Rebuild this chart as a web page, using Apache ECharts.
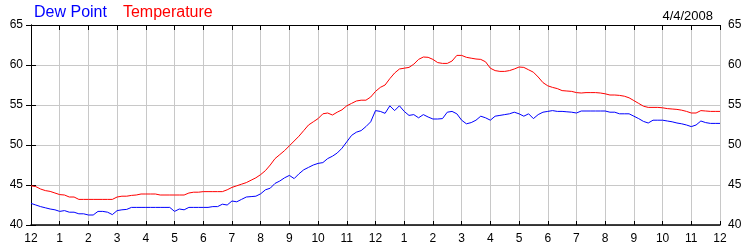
<!DOCTYPE html>
<html>
<head>
<meta charset="utf-8">
<script src="https://cdn.jsdelivr.net/npm/echarts@6/dist/echarts.min.js"></script>
<style>
html,body{margin:0;padding:0;background:#fff;}
#chart{width:750px;height:250px;}
</style>
</head>
<body>
<div id="chart"></div>
<script>
// 10-minute readings from 12 AM to 12 AM (next day), 145 values each
const dateLabel = '4/4/2008';
const stepMinutes = 10;
const hourLabels = ['12','1','2','3','4','5','6','7','8','9','10','11','12','1','2','3','4','5','6','7','8','9','10','11','12'];
const yTicks = [40, 45, 50, 55, 60, 65];

const temperature = [
  44.9,44.8,44.5,44.3,44.2,44.0,43.8,43.75,43.5,43.5,
  43.2,43.2,43.2,43.2,43.2,43.2,43.2,43.2,43.5,43.6,
  43.6,43.7,43.75,43.875,43.875,43.875,43.875,43.75,43.75,43.75,
  43.75,43.75,43.75,44.0,44.1,44.1,44.17,44.17,44.17,44.17,
  44.17,44.4,44.7,44.9,45.1,45.3,45.6,45.9,46.3,46.8,
  47.5,48.3,48.8,49.3,49.9,50.5,51.1,51.8,52.5,52.9,
  53.3,53.9,54.0,53.75,54.1,54.4,54.9,55.2,55.5,55.6,
  55.6,56.0,56.7,57.2,57.5,58.3,59.0,59.5,59.6,59.7,
  60.1,60.7,61.0,60.96,60.7,60.3,60.2,60.2,60.5,61.2,
  61.2,60.96,60.85,60.75,60.7,60.4,59.6,59.3,59.2,59.2,
  59.3,59.5,59.75,59.7,59.4,59.1,58.5,57.8,57.4,57.2,
  57.05,56.8,56.75,56.7,56.55,56.5,56.55,56.55,56.55,56.5,
  56.4,56.25,56.25,56.2,56.1,55.9,55.55,55.2,54.85,54.7,
  54.7,54.7,54.65,54.55,54.5,54.45,54.35,54.2,54.0,54.0,
  54.3,54.25,54.2,54.2,54.2
];

const dewPoint = [
  42.7,42.5,42.3,42.15,42.0,41.9,41.7,41.8,41.6,41.6,
  41.4,41.4,41.25,41.25,41.7,41.7,41.6,41.3,41.8,41.9,
  41.95,42.2,42.2,42.2,42.2,42.2,42.2,42.2,42.2,42.2,
  41.7,42.0,41.9,42.2,42.2,42.2,42.2,42.2,42.3,42.3,
  42.6,42.5,43.0,42.9,43.2,43.5,43.55,43.6,43.9,44.4,
  44.6,45.2,45.5,45.9,46.2,45.8,46.4,46.9,47.2,47.5,
  47.7,47.8,48.3,48.6,49.0,49.6,50.4,51.2,51.6,51.8,
  52.3,52.9,54.3,54.2,53.96,54.9,54.3,54.9,54.2,53.7,
  53.8,53.4,53.8,53.5,53.25,53.25,53.3,54.1,54.2,53.9,
  53.1,52.65,52.8,53.1,53.6,53.4,53.1,53.6,53.7,53.8,
  53.9,54.1,53.9,53.6,53.9,53.3,53.8,54.1,54.2,54.3,
  54.2,54.2,54.15,54.1,54.0,54.25,54.25,54.25,54.25,54.25,
  54.25,54.1,54.1,53.9,53.9,53.9,53.6,53.3,52.95,52.75,
  53.1,53.1,53.1,53.0,52.9,52.75,52.65,52.5,52.3,52.5,
  53.0,52.8,52.7,52.7,52.7
];

const toPairs = arr => arr.map((v, i) => [i * stepMinutes / 60, v]);

const chart = echarts.init(document.getElementById('chart'), null, {renderer: 'canvas'});
const FONT = 'Liberation Sans, Arial, sans-serif';
const gridColor = '#c8c8c8';

chart.setOption({
  animation: false,
  backgroundColor: '#ffffff',
  title: {
    text: dateLabel,
    right: 32,
    top: 5,
    textStyle: {fontFamily: FONT, fontSize: 13, fontWeight: 'normal', color: '#000'}
  },
  legend: {
    left: 24,
    top: 0,
    itemWidth: 0,
    itemHeight: 0,
    itemGap: 11,
    icon: 'rect',
    selectedMode: false,
    data: [
      {name: 'Dew Point', textStyle: {color: '#0000ff'}},
      {name: 'Temperature', textStyle: {color: '#ff0000'}}
    ],
    textStyle: {fontFamily: FONT, fontSize: 16}
  },
  grid: {left: 31, right: 30, top: 25, bottom: 25, containLabel: false},
  xAxis: [
    {
      type: 'value', min: 0, max: 24, interval: 1, position: 'bottom',
      axisLine: {show: true, onZero: false, lineStyle: {color: '#000', width: 1.5}},
      axisTick: {show: true, inside: true, length: 4, lineStyle: {color: '#000'}},
      axisLabel: {
        margin: 8, color: '#000', fontFamily: FONT, fontSize: 12,
        formatter: v => hourLabels[Math.round(v)]
      },
      splitLine: {show: true, lineStyle: {color: gridColor, width: 1}}
    },
    {
      type: 'value', min: 0, max: 24, interval: 1, position: 'top',
      axisLine: {show: true, onZero: false, lineStyle: {color: '#000', width: 1}},
      axisTick: {show: true, inside: true, length: 5, lineStyle: {color: '#000'}},
      axisLabel: {show: false},
      splitLine: {show: false}
    }
  ],
  yAxis: [
    {
      type: 'value', min: yTicks[0], max: yTicks[yTicks.length - 1], interval: 5, position: 'left',
      axisLine: {show: true, lineStyle: {color: '#000', width: 1}},
      axisTick: {show: true, inside: true, length: 5, lineStyle: {color: '#000'}},
      axisLabel: {margin: 8, color: '#000', fontFamily: FONT, fontSize: 12},
      splitLine: {show: true, lineStyle: {color: gridColor, width: 1}}
    },
    {
      type: 'value', min: yTicks[0], max: yTicks[yTicks.length - 1], interval: 5, position: 'right',
      axisLine: {show: true, lineStyle: {color: '#000', width: 1}},
      axisTick: {show: true, inside: true, length: 5, lineStyle: {color: '#000'}},
      axisLabel: {margin: 8, color: '#000', fontFamily: FONT, fontSize: 12},
      splitLine: {show: false}
    }
  ],
  series: [
    {
      name: 'Dew Point', type: 'line', xAxisIndex: 0, yAxisIndex: 0,
      data: toPairs(dewPoint), showSymbol: false, symbol: 'none',
      lineStyle: {color: '#0000ff', width: 1}, itemStyle: {color: '#0000ff'}
    },
    {
      name: 'Temperature', type: 'line', xAxisIndex: 0, yAxisIndex: 0,
      data: toPairs(temperature), showSymbol: false, symbol: 'none',
      lineStyle: {color: '#ff0000', width: 1}, itemStyle: {color: '#ff0000'}
    }
  ]
});
</script>
</body>
</html>
